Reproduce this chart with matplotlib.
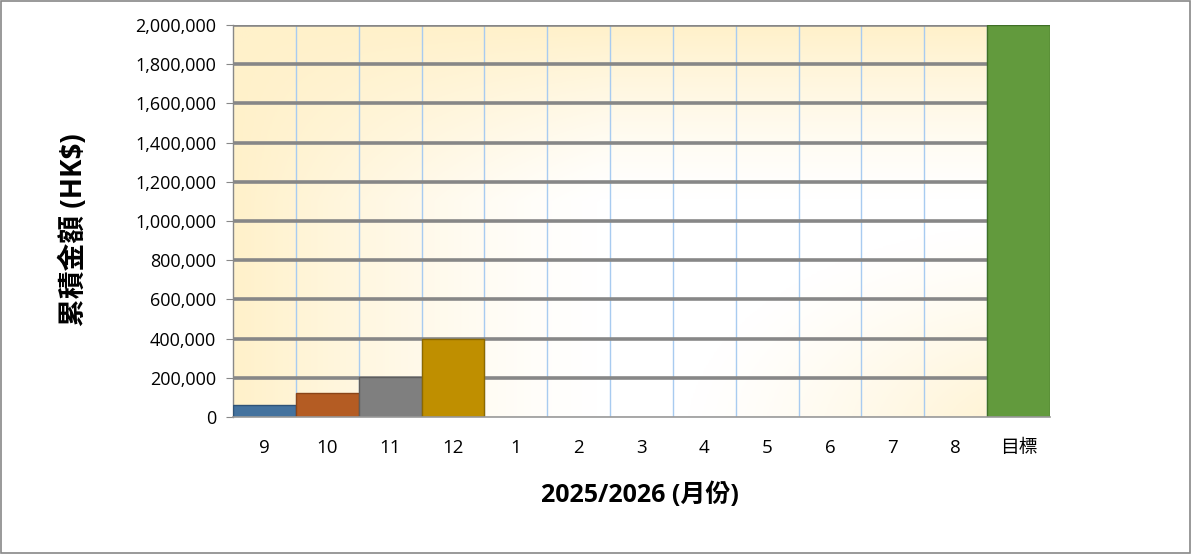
import numpy as np
import matplotlib
matplotlib.use("Agg")
import matplotlib.pyplot as plt
from matplotlib.colors import LinearSegmentedColormap
from matplotlib.patches import Rectangle
from matplotlib.ticker import FuncFormatter

plt.rcParams['font.family'] = ['Open Sans', 'Noto Sans CJK TC', 'DejaVu Sans']

categories = ['9', '10', '11', '12', '1', '2', '3', '4', '5', '6', '7', '8', '目標']
values = [60000, 122000, 205000, 398000, 0, 0, 0, 0, 0, 0, 0, 0, 2000000]
colors = ['#44729E', '#B45C23', '#7F7F7F', '#BF8F00'] + ['#F2F2F2'] * 8 + ['#629A3D']
edges = ['#2F5377', '#8A4418', '#5E5E5E', '#8C6900'] + ['#D0D0D0'] * 8 + ['#3F6F27']
y_ticks = [0, 200000, 400000, 600000, 800000, 1000000, 1200000, 1400000, 1600000, 1800000, 2000000]

W, H = 1191, 554
fig = plt.figure(figsize=(W / 100, H / 100), dpi=100)
ax = fig.add_axes([233 / W, 1 - 417 / H, (1050 - 233) / W, (417 - 25) / H])

n = len(categories)
ax.set_xlim(-0.5, n - 0.5)
ax.set_ylim(0, 2000000)

# background gradient: cream along left & top edges and bottom-right corner, white centre
gx, gy = np.meshgrid(np.linspace(0, 1, 500), np.linspace(0, 1, 300))  # gy: 0 top -> 1 bottom
a_left = np.clip(1 - gx / 0.45, 0, 1)
a_top = np.clip(1 - gy / 0.45, 0, 1)
d_br = np.sqrt(((gx - 1.0) / 0.45) ** 2 + ((gy - 1.05) / 0.55) ** 2)
a_br = np.clip(1 - d_br, 0, 1)
a = 1 - (1 - a_left) * (1 - a_top) * (1 - a_br)
a = np.clip(a, 0, 1) ** 1.3
cmap = LinearSegmentedColormap.from_list('bg', ['#FFFFFF', '#FFF1CA'])
ax.imshow(a, cmap=cmap, extent=(-0.5, n - 0.5, 0, 2000000), aspect='auto',
          origin='upper', zorder=0, vmin=0, vmax=1, interpolation='bilinear')

# vertical light blue gridlines at category boundaries
for k in range(1, n):
    ax.axvline(k - 0.5, color='#A8CBF0', lw=1.0, zorder=1)
# horizontal grey gridlines
for t in y_ticks[1:]:
    ax.axhline(t, color='#878787', lw=2.6, zorder=1.5)

x = np.arange(n)
ax.bar(x, values, width=1.0, color=colors, edgecolor=edges, linewidth=1.0, zorder=3)

ax.set_xticks(x)
ax.set_xticklabels(categories, fontsize=13.5)
ax.set_yticks(y_ticks)
ax.yaxis.set_major_formatter(FuncFormatter(lambda v, p: f'{int(v):,}'))
ax.tick_params(axis='y', labelsize=13, length=5, color='#888888', pad=7)
ax.tick_params(axis='x', length=0, pad=16)

for s in ['top', 'right']:
    ax.spines[s].set_visible(False)
ax.spines['left'].set_color('#888888')
ax.spines['left'].set_linewidth(1.0)
ax.spines['bottom'].set_color('#999999')
ax.spines['bottom'].set_linewidth(1.2)
ax.spines['bottom'].set_zorder(4)

fig.text(640 / W, 1 - 495 / H, '2025/2026 (月份)', fontsize=18, fontweight='bold',
         ha='center', va='center')
fig.text(74 / W, 1 - 230 / H, '累積金額 (HK$)', fontsize=20, fontweight='bold',
         ha='center', va='center', rotation=90)

fig.patches.append(Rectangle((0.0008, 0.0015), 0.998, 0.997, transform=fig.transFigure,
                             fill=False, edgecolor='#888888', linewidth=1.2))

fig.savefig('out.png', dpi=100, facecolor='white')
